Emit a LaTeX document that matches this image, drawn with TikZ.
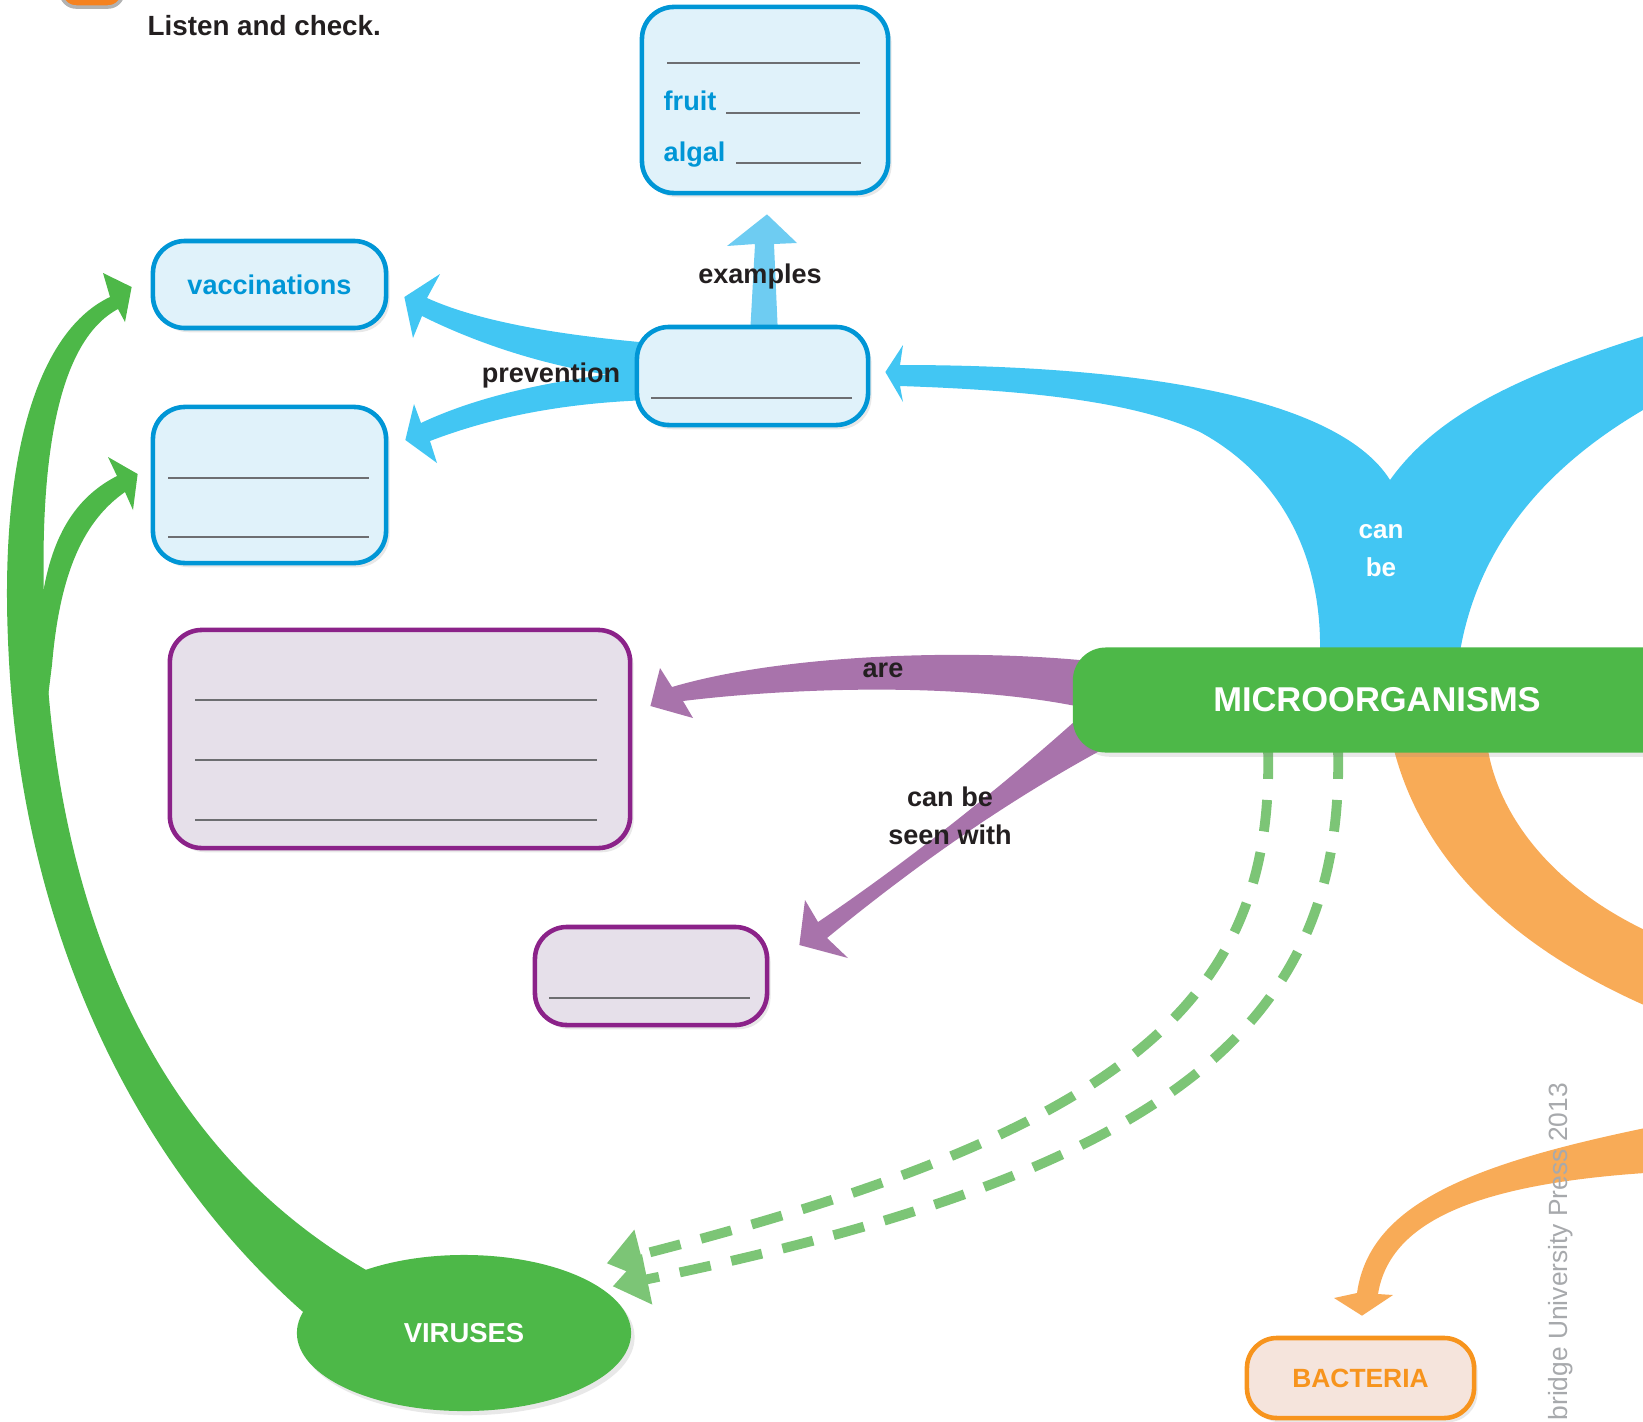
\documentclass[tikz,border=0pt]{standalone}
\usepackage{fontspec}
\setmainfont{Liberation Sans}
\usetikzlibrary{shapes.geometric,shadows,calc,arrows.meta}
\pgfdeclarelayer{background}
\pgfsetlayers{background,main}
\definecolor{mapblue}{RGB}{0,150,214}
\definecolor{mapbluefill}{RGB}{224,242,250}
\definecolor{mapcyan}{RGB}{66,198,243}
\definecolor{mapcyanlight}{RGB}{110,204,242}
\definecolor{mappurple}{RGB}{139,34,137}
\definecolor{mappurplefill}{RGB}{230,224,234}
\definecolor{mapmauve}{RGB}{168,115,171}
\definecolor{mapgreen}{RGB}{77,184,72}
\definecolor{mapgreenlight}{RGB}{124,197,118}
\definecolor{maporange}{RGB}{247,148,29}
\definecolor{maporangelight}{RGB}{248,171,87}
\definecolor{maporangefill}{RGB}{245,228,220}
\definecolor{badgeorange}{RGB}{245,130,32}
\definecolor{mapgrey}{RGB}{109,110,113}
\definecolor{copygrey}{RGB}{167,169,172}
\definecolor{mapdark}{RGB}{35,31,32}

\tikzset{
    softshadow/.style={drop shadow={opacity=0.18, shadow xshift=1pt, shadow yshift=-1.2pt}},
    bluebox/.style={draw=mapblue, fill=mapbluefill, line width=1.3pt, rounded corners=0.32cm, softshadow},
    purplebox/.style={draw=mappurple, fill=mappurplefill, line width=1.3pt, rounded corners=0.32cm, softshadow},
    answerline/.style={draw=mapgrey, line width=0.6pt},
    bluetext/.style={text=mapblue, font=\fontsize{7.7}{9}\selectfont\bfseries},
    linklabel/.style={text=mapdark, font=\fontsize{7.7}{10.8}\selectfont\bfseries, align=center, inner sep=0pt},
    dashlink/.style={draw=mapgreenlight, line width=2.8pt, dash pattern=on 9pt off 6pt, -{Triangle[length=10pt,width=14pt]}}
}

\begin{document}
\begin{tikzpicture}[x=0.01cm, y=-0.01cm]
    \useasboundingbox (0,0) rectangle (1643,1421);
    \clip (0,0) rectangle (1643,1421);

    % heading
    \node[fill=badgeorange, draw=black!30, line width=1pt, rounded corners=0.15cm, minimum width=0.62cm, minimum height=0.46cm] (badge) at (92,-16) {};
    \node[anchor=base west, inner sep=0pt, text=mapdark, font=\fontsize{7.9}{9}\selectfont\bfseries] (listen) at (147,35) {Listen and check.};

    % examples box
    \node[bluebox, minimum width=2.46cm, minimum height=1.86cm] (exbox) at (765,100) {};
    \draw[answerline] (667,63) -- (860,63);
    \node[bluetext, anchor=base west, inner sep=0pt] (fruit) at (663,110) {fruit};
    \draw[answerline] (726,113) -- (860,113);
    \node[bluetext, anchor=base west, inner sep=0pt] (algal) at (663,161) {algal};
    \draw[answerline] (736,163) -- (861,163);

    % middle blue box
    \node[bluebox, minimum width=2.31cm, minimum height=0.98cm] (midbox) at (752.5,376) {};
    \draw[answerline] (651,398) -- (852,398);

    % vaccinations
    \node[bluebox, bluetext, minimum width=2.33cm, minimum height=0.87cm] (vacbox) at (269.5,284.5) {vaccinations};

    % blank blue box
    \node[bluebox, minimum width=2.33cm, minimum height=1.56cm] (blankbox) at (269.5,485) {};
    \draw[answerline] (168,478) -- (369,478);
    \draw[answerline] (168,537) -- (369,537);

    % purple boxes
    \node[purplebox, minimum width=4.6cm, minimum height=2.18cm] (arebox) at (400,739) {};
    \draw[answerline] (195,700) -- (597,700);
    \draw[answerline] (195,760) -- (597,760);
    \draw[answerline] (195,820) -- (597,820);
    \node[purplebox, minimum width=2.32cm, minimum height=0.98cm] (seenbox) at (651,976) {};
    \draw[answerline] (549,998) -- (750,998);

    % MICROORGANISMS
    \node[fill=mapgreen, rounded corners=0.33cm, minimum width=6.08cm, minimum height=1.05cm, text=white, font=\fontsize{9.8}{11}\selectfont\bfseries, softshadow] (micro) at (1377,700) {MICROORGANISMS};

    % VIRUSES
    \node[ellipse, fill=mapgreen, minimum width=3.34cm, minimum height=1.56cm, text=white, font=\fontsize{7.8}{9}\selectfont\bfseries, softshadow] (virus) at (464,1333) {VIRUSES};

    % BACTERIA
    \node[draw=maporange, fill=maporangefill, line width=1.3pt, rounded corners=0.3cm, minimum width=2.27cm, minimum height=0.8cm, text=maporange, font=\fontsize{7.5}{9}\selectfont\bfseries, softshadow] (bactbox) at (1360.5,1378) {BACTERIA};

    % link words
    \node[linklabel] (prevlabel) at (551,375) {prevention};
    \node[linklabel] (exlabel) at (760,276) {examples};
    \node[linklabel] (arelabel) at (883,670) {are};
    \node[linklabel] (seenlabel) at (950,816) {can be\\seen with};
    \node[linklabel, text=white, font=\fontsize{7.4}{10.8}\selectfont\bfseries] (canlabel) at (1381,551) {can\\be};

    \node[rotate=90, anchor=west, inner sep=0pt, text=copygrey, font=\fontsize{7.5}{9}\selectfont] (copyright) at (1561,1421) {bridge University Press 2013};

    % arrow tips
    \coordinate (bigtip) at ($(midbox.east)+(15,-4)$);
    \coordinate (vacpoint) at ($(vacbox.east)+(16,12.5)$);
    \coordinate (blankpoint) at ($(blankbox.east)+(17,-45)$);
    \coordinate (expoint) at ($(exbox.south)+(2,19)$);
    \coordinate (arepoint) at ($(arebox.east)+(18,-33)$);
    \coordinate (seenpoint) at ($(seenbox.east)+(30,-31)$);
    \coordinate (bactpoint) at ($(bactbox.north)+(1.5,-20)$);
    \coordinate (gvacpoint) at ($(vacbox.west)+(-19,2.5)$);
    \coordinate (gblankpoint) at ($(blankbox.west)+(-13,-11)$);

    \begin{pgfonlayer}{background}
    \clip (0,0) rectangle (1643,1421);
    % can be
    \fill[mapcyan] (900,365) .. controls (1150,365) and (1340,400) .. (1390,480)
        .. controls (1440,410) and (1530,370) .. (1680,325) -- (1680,390)
        .. controls (1540,460) and (1460,560) .. (1455,700) -- (1320,700) -- (1320,640)
        .. controls (1318,540) and (1270,470) .. (1200,432)
        .. controls (1130,400) and (1020,390) .. (900,386)
        -- (903,402) -- (bigtip) -- (903,345) -- cycle;
    % prevention
    \fill[mapcyan] (650,343) .. controls (560,335) and (480,322) .. (427,298) -- (440,274) -- (vacpoint) -- (413,338) -- (422,316)
        .. controls (480,345) and (560,372) .. (650,380) -- cycle;
    \fill[mapcyan] (650,370) .. controls (560,378) and (480,395) .. (421,423) -- (414,404) -- (blankpoint) -- (437,463) -- (430,441)
        .. controls (490,418) and (560,403) .. (650,400) -- cycle;
    % examples
    \fill[mapcyanlight] (750,335) -- (755,244) -- (727,246) -- (expoint) -- (797,243) -- (774,244) -- (778,335) -- cycle;
    % are
    \fill[mapmauve] (1090,661) .. controls (960,648) and (780,655) .. (672,687) -- (660,668) -- (arepoint) -- (693,718) -- (683,701)
        .. controls (780,689) and (960,680) .. (1090,709) -- cycle;
    % can be seen with
    \fill[mapmauve] (1085,712) .. controls (1010,780) and (910,860) .. (818,922) -- (805,900) -- (seenpoint) -- (848,958) -- (827,938)
        .. controls (910,870) and (1000,805) .. (1105,748) -- cycle;
    % orange
    \fill[maporangelight] (1394,720) -- (1394,750) .. controls (1420,850) and (1500,950) .. (1680,1020) -- (1680,945)
        .. controls (1560,900) and (1500,820) .. (1488,750) -- (1488,720) -- cycle;
    \fill[maporangelight] (1680,1121) .. controls (1480,1160) and (1370,1200) .. (1357,1293) -- (1334,1298) -- (bactpoint) -- (1393,1295) -- (1378,1294)
        .. controls (1390,1220) and (1480,1180) .. (1680,1171) -- cycle;
    % green from VIRUSES
    \fill[mapgreen] (310,1318) .. controls (150,1180) and (20,950) .. (8,640)
        .. controls (0,450) and (40,330) .. (110,297) -- (103,273) -- (gvacpoint) -- (125,322) -- (118,309)
        .. controls (60,340) and (40,450) .. (44,600)
        .. controls (48,900) and (150,1150) .. (375,1275) -- cycle;
    \fill[mapgreen] (25,720) -- (42,600) .. controls (52,530) and (80,495) .. (117,476) -- (108,457) -- (gblankpoint) -- (133,510) -- (125,492)
        .. controls (85,520) and (60,570) .. (52,665) -- (40,760) -- cycle;
    % dashed
    \draw[dashlink] ($(micro.south)+(-109,-6)$) .. controls (1275,1000) and (1130,1130) .. ($(virus.north east)+(24,-14)$);
    \draw[dashlink] ($(micro.south)+(-39,-6)$) .. controls (1345,1020) and (1180,1170) .. ($(virus.north east)+(30,9)$);
    \end{pgfonlayer}
\end{tikzpicture}
\end{document}
